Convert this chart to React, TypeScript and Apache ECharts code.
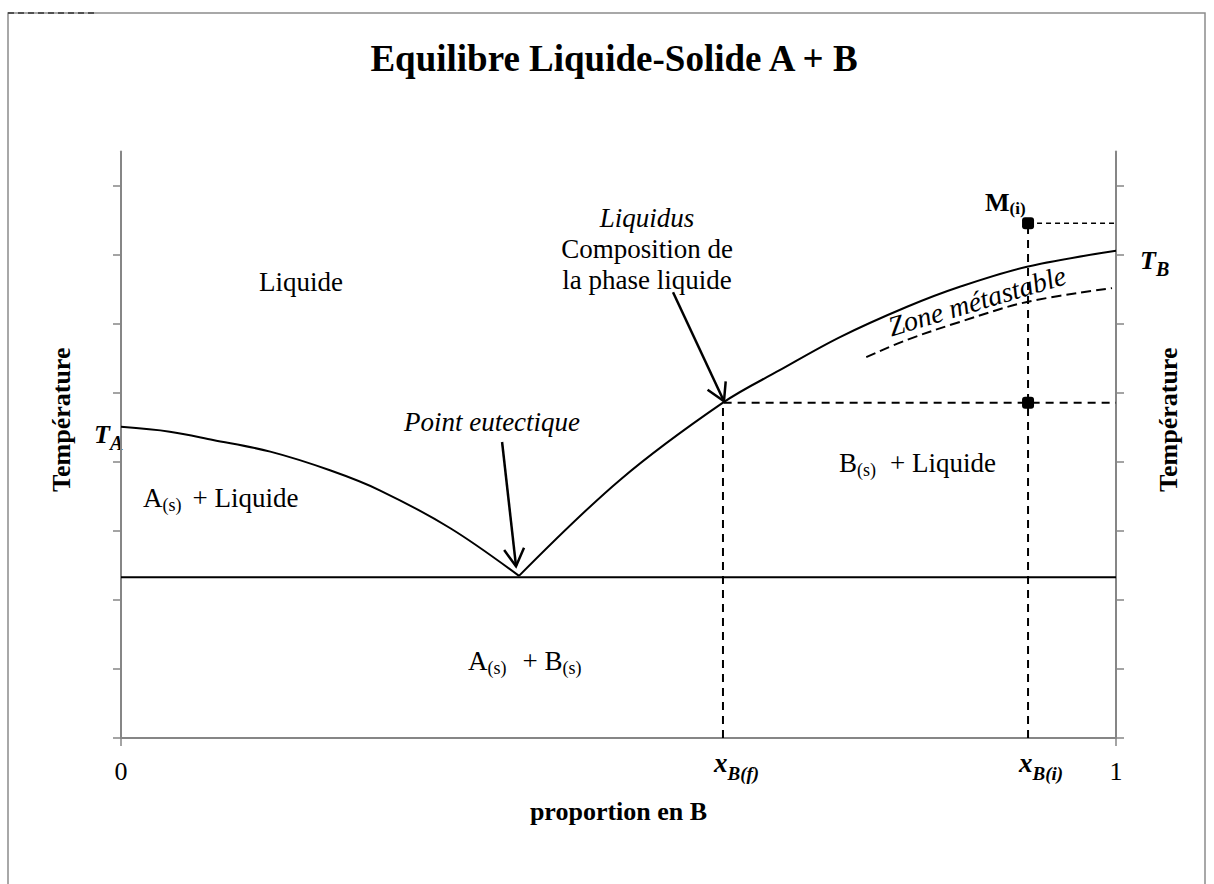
import React, { useEffect, useRef } from 'react';
import * as echarts from 'echarts';

const FONT = '"Liberation Serif", "Times New Roman", serif';

// ---- data (x = proportion en B, y = température in arbitrary units) ----
const liquidusA: number[][] = [[0, 4.51], [0.049, 4.44], [0.0925, 4.32], [0.15, 4.15], [0.21, 3.88], [0.26, 3.59], [0.331, 3.04], [0.4, 2.35]];
const liquidusB: number[][] = [[0.4, 2.35], [0.5015, 3.74], [0.605, 4.86], [0.662, 5.33], [0.7226, 5.81], [0.79, 6.25], [0.843, 6.54], [0.9106, 6.83], [1, 7.06]];
const metastable: number[][] = [[0.749, 5.52], [0.79, 5.77], [0.843, 6.03], [0.9106, 6.32], [0.996, 6.52]];
const eutecticT = 2.33;
const xBf = 0.605;
const TBf = 4.86;
const xBi = 0.9116;
const TMi = 7.46;
const yTicks = [0, 1, 2, 3, 4, 5, 6, 7, 8];
const yMax = 8.5;
const xTicks = [0, 1];
const arrowEutectic: number[][] = [[0.383, 4.29], [0.397, 2.49]];
const arrowLiquidus: number[][] = [[0.5548, 6.46], [0.606, 4.88]];

const AXIS_COLOR = '#868686';

function axisY(position: 'left' | 'right') {
  return {
    type: 'value',
    position,
    min: 0,
    max: yMax,
    axisLine: { show: true, onZero: false, lineStyle: { color: AXIS_COLOR, width: 2 } },
    axisTick: { show: true, customValues: yTicks, length: 8, inside: false, lineStyle: { color: AXIS_COLOR, width: 1.5 } },
    axisLabel: { show: false },
    splitLine: { show: false },
    name: 'Température',
    nameLocation: 'middle',
    nameRotate: 90,
    nameGap: position === 'left' ? 47 : 39,
    nameTextStyle: { fontFamily: FONT, fontWeight: 'bold', fontSize: 26, color: '#000', padding: [0, 0, 0, 50] },
  };
}

function richStyles(main: number, sub: number, pad: number, weight: string, style: string, extra: Record<string, any> = {}) {
  const base = { fontFamily: FONT, color: '#000', fontWeight: weight, fontStyle: style };
  return {
    n: { ...base, fontSize: main, lineHeight: main + 3 },
    s: { ...base, fontSize: sub, lineHeight: sub, padding: [pad, 0, 0, 0] },
    ...extra,
  };
}

const lineStyleBlack = { color: '#000', width: 2 };

const option: any = {
  animation: false,
  backgroundColor: '#fff',
  title: {
    text: 'Equilibre Liquide-Solide A + B',
    left: 609,
    textAlign: 'center',
    top: 35,
    textStyle: { fontFamily: FONT, fontWeight: 'bold', fontSize: 37, color: '#000' },
  },
  grid: { left: 121, right: 98, top: 151.5, bottom: 146, containLabel: false },
  xAxis: {
    type: 'value',
    min: 0,
    max: 1,
    axisLine: { show: true, onZero: false, lineStyle: { color: AXIS_COLOR, width: 2 } },
    axisTick: { show: true, customValues: xTicks, length: 8, lineStyle: { color: AXIS_COLOR, width: 1.5 } },
    axisLabel: { customValues: xTicks, fontFamily: FONT, fontSize: 26, color: '#000', margin: 20 },
    splitLine: { show: false },
    name: 'proportion en B',
    nameLocation: 'middle',
    nameGap: 60,
    nameTextStyle: { fontFamily: FONT, fontWeight: 'bold', fontSize: 26, color: '#000' },
  },
  yAxis: [axisY('left'), axisY('right')],
  series: [
    { name: 'Liquidus A', type: 'line', data: liquidusA, smooth: 0.35, symbol: 'none', lineStyle: lineStyleBlack },
    { name: 'Liquidus B', type: 'line', data: liquidusB, smooth: 0.35, symbol: 'none', lineStyle: lineStyleBlack },
    { name: 'Eutectique', type: 'line', data: [[0, eutecticT], [1, eutecticT]], symbol: 'none', lineStyle: lineStyleBlack },
    { name: 'Zone métastable', type: 'line', data: metastable, smooth: 0.35, symbol: 'none', lineStyle: { color: '#000', width: 2, type: [10, 5] } },
    { name: 'xB(f)', type: 'line', data: [[xBf, 0], [xBf, TBf], [1, TBf]], symbol: 'none', lineStyle: { color: '#000', width: 2, type: [8, 6] } },
    { name: 'xB(i)', type: 'line', data: [[xBi, 0], [xBi, TMi]], symbol: 'none', lineStyle: { color: '#000', width: 2, type: [8, 6] } },
    { name: 'M(i) T', type: 'line', data: [[xBi, TMi], [1, TMi]], symbol: 'none', lineStyle: { color: '#000', width: 1.3, type: [5, 4] } },
    { name: 'Points', type: 'scatter', data: [[xBi, TMi], [xBi, TBf]], symbol: 'roundRect', symbolSize: 12, itemStyle: { color: '#000', opacity: 1 }, z: 5 },
  ],
};

function buildGraphics(px: (p: number[]) => number[]) {
  const g: any[] = [];
  // outer frame
  g.push({ type: 'rect', silent: true, shape: { x: 8, y: 13, width: 1197, height: 900 }, style: { fill: null, stroke: '#8c8c8c', lineWidth: 1.5 } });
  g.push({ type: 'line', silent: true, shape: { x1: 8, y1: 13, x2: 95, y2: 13 }, style: { stroke: '#333', lineWidth: 1.5, lineDash: [6, 4] } });

  const arrow = (s: number[], e: number[]) => {
    const ps = px(s), pe = px(e);
    const dx = ps[0] - pe[0], dy = ps[1] - pe[1];
    const L = Math.hypot(dx, dy);
    const ux = dx / L, uy = dy / L;
    const rot = (a: number) => [ux * Math.cos(a) - uy * Math.sin(a), ux * Math.sin(a) + uy * Math.cos(a)];
    const h1 = rot(Math.PI / 6), h2 = rot(-Math.PI / 6);
    g.push({ type: 'line', silent: true, shape: { x1: ps[0], y1: ps[1], x2: pe[0], y2: pe[1] }, style: { stroke: '#000', lineWidth: 2.5 } });
    g.push({ type: 'polyline', silent: true, shape: { points: [[pe[0] + 20 * h1[0], pe[1] + 20 * h1[1]], [pe[0], pe[1]], [pe[0] + 20 * h2[0], pe[1] + 20 * h2[1]]] }, style: { stroke: '#000', lineWidth: 2.5, fill: null } });
  };
  arrow(arrowEutectic[0], arrowEutectic[1]);
  arrow(arrowLiquidus[0], arrowLiquidus[1]);

  const text = (x: number, y: number, t: string, opts: any = {}) => {
    g.push({
      type: 'text', silent: true, x, y, rotation: opts.rotation || 0,
      style: {
        text: t, align: opts.align || 'left', verticalAlign: 'middle',
        fontFamily: FONT, fontSize: opts.fontSize || 27, fontStyle: opts.fontStyle || 'normal', fontWeight: opts.fontWeight || 'normal',
        fill: '#000', rich: opts.rich,
      },
    });
  };

  const plus = (pad: number) => ({ p: { fontFamily: FONT, fontSize: 27, lineHeight: 30, color: '#000', padding: [0, 0, 0, pad] } });

  text(301, 282, 'Liquide', { align: 'center' });
  text(143, 498, '{n|A}{s|(s)}{p|+ Liquide}', { rich: richStyles(27, 18, 14, 'normal', 'normal', plus(11)) });
  text(839, 463, '{n|B}{s|(s)}{p|+ Liquide}', { rich: richStyles(27, 18, 14, 'normal', 'normal', plus(14)) });
  text(468, 661, '{n|A}{s|(s)}{p|+ B}{s|(s)}', { rich: richStyles(27, 18, 14, 'normal', 'normal', plus(16)) });
  text(492, 422, 'Point eutectique', { align: 'center', fontStyle: 'italic' });
  text(647, 218, 'Liquidus', { align: 'center', fontStyle: 'italic' });
  text(647, 249, 'Composition de', { align: 'center' });
  text(647, 280, 'la phase liquide', { align: 'center' });
  text(977, 301, 'Zone métastable', { align: 'center', fontStyle: 'italic', fontSize: 28, rotation: 16.7 * Math.PI / 180 });

  // T_A, T_B
  const pA = px([0, liquidusA[0][1]]);
  const pB = px([1, liquidusB[liquidusB.length - 1][1]]);
  const tRich = richStyles(26, 20, 17, 'bold', 'italic');
  text(pA[0] - 27, pA[1] + 8, '{n|T}{s|A}', { rich: tRich });
  text(pB[0] + 24, pB[1] + 10, '{n|T}{s|B}', { rich: tRich });

  // M(i)
  const pM = px([xBi, TMi]);
  text(pM[0] - 43, pM[1] - 21, '{n|M}{s|(i)}', { rich: richStyles(26, 17, 13, 'bold', 'normal') });

  // x_B(f), x_B(i)
  const xRich = richStyles(27, 19, 20, 'bold', 'italic');
  const pf = px([xBf, 0]);
  const pi = px([xBi, 0]);
  text(pf[0] - 9, pf[1] + 25, '{n|x}{s|B(f)}', { rich: xRich });
  text(pi[0] - 9, pi[1] + 25, '{n|x}{s|B(i)}', { rich: xRich });
  return g;
}

export default function App() {
  const ref = useRef<HTMLDivElement>(null);
  useEffect(() => {
    const chart = echarts.init(ref.current!, null, { renderer: 'svg' });
    chart.setOption(option);
    const px = (p: number[]) => chart.convertToPixel({ xAxisIndex: 0, yAxisIndex: 0 }, p) as unknown as number[];
    chart.setOption({ graphic: buildGraphics(px) });
    return () => chart.dispose();
  }, []);
  return <div ref={ref} style={{ position: 'fixed', left: 0, top: 0, width: 1214, height: 884, background: '#fff' }} />;
}
